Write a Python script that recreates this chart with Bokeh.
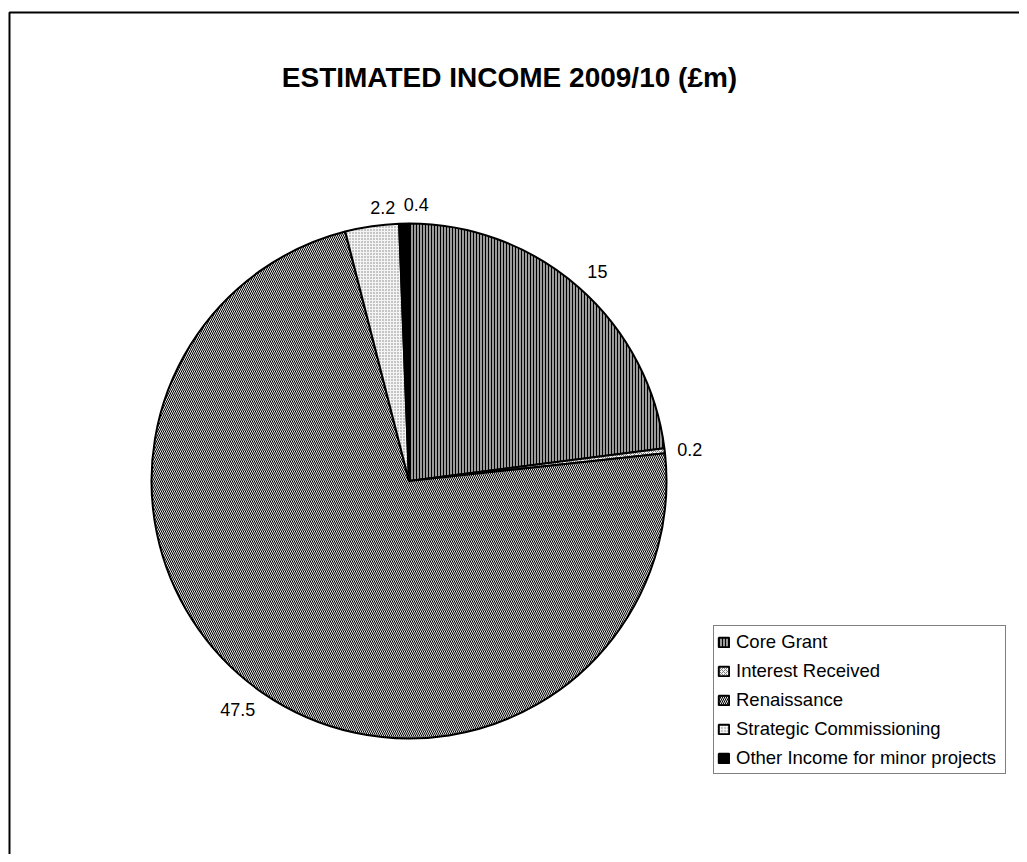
import math
from bokeh.plotting import figure
from bokeh.models import ColumnDataSource, Range1d, Legend, LegendItem, Label
from bokeh.core.properties import value
from bokeh.embed import file_html
from bokeh.resources import INLINE

# ---- data ----
categories = ["Core Grant", "Interest Received", "Renaissance",
              "Strategic Commissioning", "Other Income for minor projects"]
income = [15, 0.2, 47.5, 2.2, 0.4]
label_text = ["15", "0.2", "47.5", "2.2", "0.4"]
title_text = "ESTIMATED INCOME 2009/10 (£m)"

# ---- styles ----
fills = ["#9a9a9a", "#f2f2f2", "#e4e4e4", "#f4f4f4", "#000000"]
hatches = ["|", "x", "\\", ".", " "]
hatch_scales = [3, 4, 4, 3, 12]
hatch_colors = ["#000000", "#808080", "#000000", "#808080", "#000000"]

W, H = 1019, 854
CX, CY, R = 408.5, 373.5, 257.5
LR = 270

p = figure(width=W, height=H, output_backend="svg", toolbar_location=None,
           x_range=Range1d(0, W), y_range=Range1d(0, H),
           x_axis_type=None, y_axis_type=None, min_border=0,
           outline_line_color=None, background_fill_color="white",
           border_fill_color="white")
p.grid.visible = False

total = sum(income)
starts, ends, lx, ly, aligns, bases = [], [], [], [], [], []
cum = 0.0
for v in income:
    a0 = cum / total * 2 * math.pi
    cum += v
    a1 = cum / total * 2 * math.pi
    starts.append(math.pi / 2 - a0)
    ends.append(math.pi / 2 - a1)
    th = (a0 + a1) / 2
    s, c = math.sin(th), math.cos(th)
    lx.append(CX + LR * s)
    ly.append(CY + LR * c)
    aligns.append("right" if s < -0.3 else "left")
    bases.append("bottom" if c > 0.3 else ("top" if c < -0.3 else "middle"))

items = []
for i, name in enumerate(categories):
    src = ColumnDataSource(dict(x=[CX], y=[CY], s=[starts[i]], e=[ends[i]]))
    r = p.wedge(x="x", y="y", radius=R, start_angle="s", end_angle="e",
                direction="clock", source=src,
                fill_color=fills[i], line_color="black", line_width=2,
                hatch_pattern=hatches[i], hatch_scale=hatch_scales[i],
                hatch_color=hatch_colors[i], hatch_weight=1)
    items.append(LegendItem(label=name, renderers=[r]))

lsrc = ColumnDataSource(dict(x=lx, y=ly, t=label_text, a=aligns, b=bases))
p.text(x="x", y="y", text="t", source=lsrc, text_align="a", text_baseline="b",
       text_font=value("Liberation Sans"), text_font_size="18px", text_color="black")

# title
p.add_layout(Label(x=509, y=H - 77, text=title_text, text_align="center",
                   text_baseline="alphabetic", text_font="Liberation Sans",
                   text_font_style="bold", text_font_size="28px", text_color="black"))

# chart border (left and top edges visible)
p.line(x=[9, 9, W + 20], y=[-20, H - 12, H - 12], line_color="black", line_width=2)

legend = Legend(items=items, location=(713, 80), orientation="vertical",
                label_text_font="Liberation Sans", label_text_font_size="18.5px",
                label_text_color="black", glyph_width=13, glyph_height=12,
                label_height=25, label_width=266, label_standoff=6, spacing=4,
                padding=3, margin=0, border_line_color="black", border_line_width=1,
                background_fill_color="white", background_fill_alpha=1)
p.add_layout(legend)

open("out.html", "w").write(file_html(p, INLINE))
